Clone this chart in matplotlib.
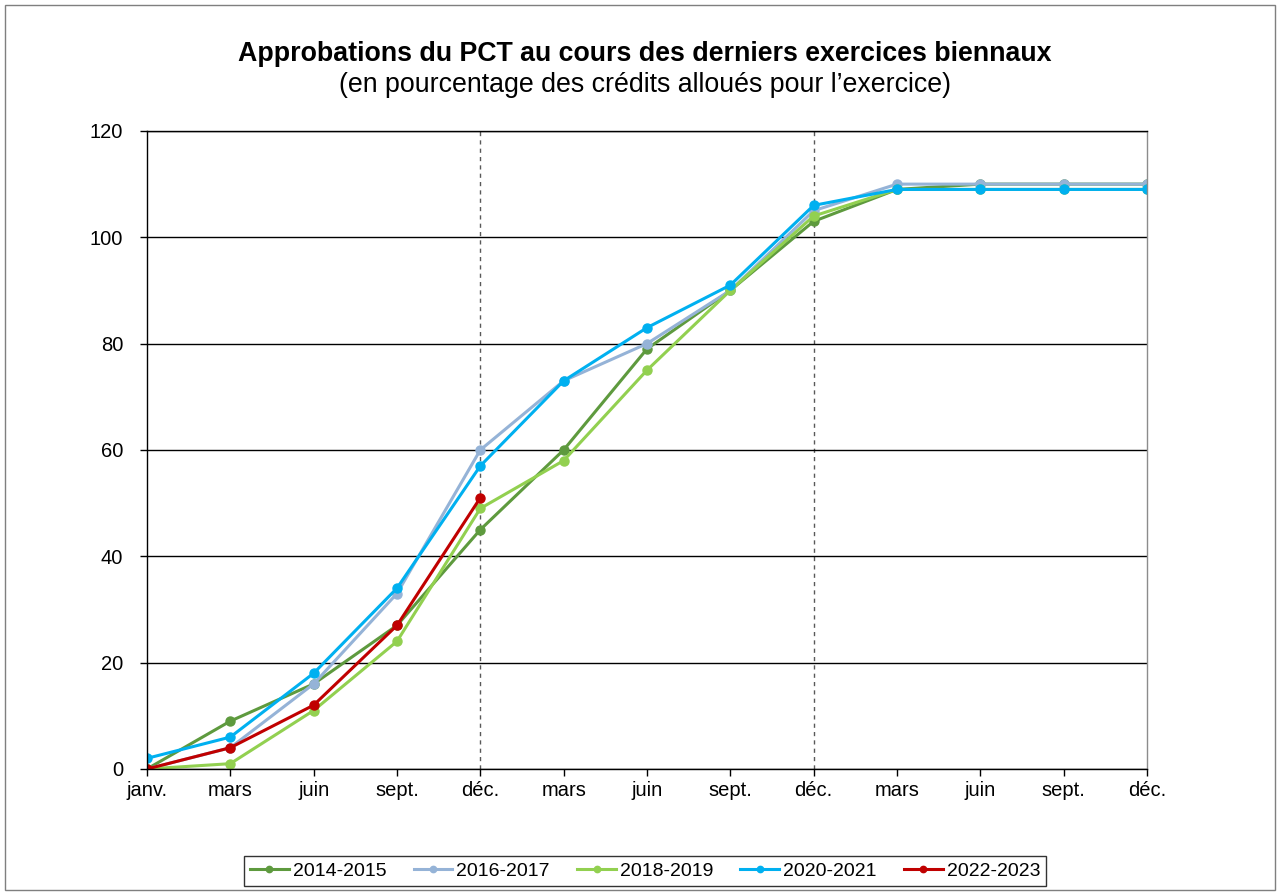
import matplotlib.pyplot as plt
from matplotlib.patches import Rectangle

plt.rcParams['font.family'] = ['Liberation Sans', 'DejaVu Sans']

# months along the two-year cycle
months = ['janv.', 'mars', 'juin', 'sept.', 'déc.', 'mars', 'juin', 'sept.',
          'déc.', 'mars', 'juin', 'sept.', 'déc.']

s_2014_2015 = [0, 9, 16, 27, 45, 60, 79, 90, 103, 109, 110, 110, 110]
s_2016_2017 = [0, 4, 16, 33, 60, 73, 80, 90, 105, 110, 110, 110, 110]
s_2018_2019 = [0, 1, 11, 24, 49, 58, 75, 90, 104, 109, 109, 109, 109]
s_2020_2021 = [2, 6, 18, 34, 57, 73, 83, 91, 106, 109, 109, 109, 109]
s_2022_2023 = [0, 4, 12, 27, 51]

series = [
    ('2014-2015', s_2014_2015, '#5E9A3E'),
    ('2016-2017', s_2016_2017, '#95B3D7'),
    ('2018-2019', s_2018_2019, '#92D050'),
    ('2020-2021', s_2020_2021, '#00B0F0'),
    ('2022-2023', s_2022_2023, '#C00000'),
]

fig = plt.figure(figsize=(12.8, 8.92), dpi=100)
ax = fig.add_axes([0.1148, 0.1379, 0.7813, 0.7153])

# gray frame round the whole picture
fig.patches.append(Rectangle((0.004, 0.002), 0.992, 0.992, transform=fig.transFigure,
                             fill=False, edgecolor='#7f7f7f', linewidth=1.0))

x = list(range(len(months)))
for label, vals, col in series:
    ax.plot(x[:len(vals)], vals, color=col, linewidth=2.2, marker='o',
            markersize=6.5, label=label)

ax.set_xlim(0, 12)
ax.set_ylim(0, 120)
ax.set_yticks(range(0, 121, 20))
ax.set_xticks(x)
ax.set_xticklabels(months)
ax.tick_params(axis='both', labelsize=14.5, direction='out', length=5,
               color='black', width=1)
ax.tick_params(axis='x', pad=4)
ax.tick_params(axis='y', pad=12)

ax.grid(axis='y', color='black', linewidth=1, zorder=0)
ax.set_axisbelow(True)
for xv in (4, 8):
    ax.axvline(xv, color='#595959', linestyle=(0, (3, 3)), linewidth=1, zorder=0)

ax.spines['left'].set_color('black')
ax.spines['bottom'].set_color('black')
ax.spines['top'].set_color('black')
ax.spines['right'].set_color('#8c8c8c')
for sp in ax.spines.values():
    sp.set_linewidth(1)

fig.text(0.504, 0.939, 'Approbations du PCT au cours des derniers exercices biennaux',
         ha='center', va='center', fontsize=19.3, fontweight='bold')
fig.text(0.504, 0.905, '(en pourcentage des crédits alloués pour l\u2019exercice)',
         ha='center', va='center', fontsize=19.3)

leg = fig.legend(loc='center', bbox_to_anchor=(0.504, 0.0235), ncol=5,
                 fontsize=14, frameon=True, fancybox=False, edgecolor='black',
                 handlelength=2.0, handletextpad=0.2, columnspacing=1.4,
                 borderpad=0.3, borderaxespad=0, markerscale=0.7)
leg.get_frame().set_linewidth(1)

fig.savefig('out.png', dpi=100)
